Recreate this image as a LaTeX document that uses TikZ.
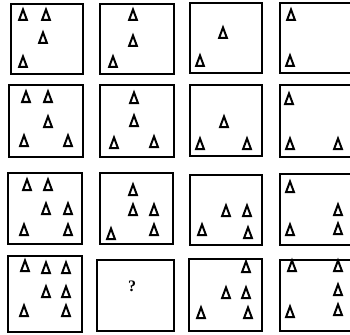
\documentclass[tikz,border=0pt]{standalone}
\usepackage{fontspec}
\newfontfamily\qfont{Liberation Serif}
\begin{document}
\begin{tikzpicture}[x=1pt,y=-1pt,
  panel/.style={draw=black,line width=1.8pt,fill=white},
  tri/.style={draw=black,line width=2pt,line join=miter,fill=white},
  qmark/.style={inner sep=0pt}]
\useasboundingbox (0,0) rectangle (350,334);
\fill[white] (0,0) rectangle (350,334);
\clip (0,0) rectangle (350,334);
% panels
\draw[panel] (11,4) rectangle (83,74);
\draw[panel] (100,4) rectangle (174,74);
\draw[panel] (190,3) rectangle (262,73);
\draw[panel] (280,3) rectangle (354,73);
\draw[panel] (9,85) rectangle (83,157);
\draw[panel] (100,85) rectangle (174,157);
\draw[panel] (190,85) rectangle (262,156);
\draw[panel] (280,85) rectangle (354,157);
\draw[panel] (8,173) rectangle (82,244);
\draw[panel] (100,173) rectangle (173,244);
\draw[panel] (190,175) rectangle (262,245);
\draw[panel] (280,174) rectangle (354,245);
\draw[panel] (8,256) rectangle (82,332);
\draw[panel] (97,260) rectangle (174,331);
\draw[panel] (189,259) rectangle (262,331);
\draw[panel] (280,260) rectangle (354,331);
% triangles
\foreach \x/\y in {
 23/15,46/15,43/38,23/62,
 133/15,133/41,113/62,
 223/33,200/61,
 291/15,290/61,
 26/97,48/97,48/122,24/141,68/141,
 134/98,134/121,114/143,154/142,
 224/122,200/144,247/144,
 289/99,290/144,338/144,
 27/185,48/185,46/209,68/209,24/230,68/230,
 133/190,133/210,154/210,111/234,154/230,
 226/211,247/211,202/230,248/233,
 290/187,338/210,290/230,338/229,
 25/266,46/268,66/268,46/292,66/292,24/311,66/311,
 246/267,226/293,246/293,201/313,248/313,
 292/266,338/266,338/290,290/312,338/310}
 \draw[tri] (\x,\y-5.5) -- (\x+3.9,\y+5) -- (\x-3.9,\y+5) -- cycle;
\node[qmark] (q) at (132,286) {\qfont\fontsize{16}{16}\selectfont\bfseries ?};
\end{tikzpicture}
\end{document}
